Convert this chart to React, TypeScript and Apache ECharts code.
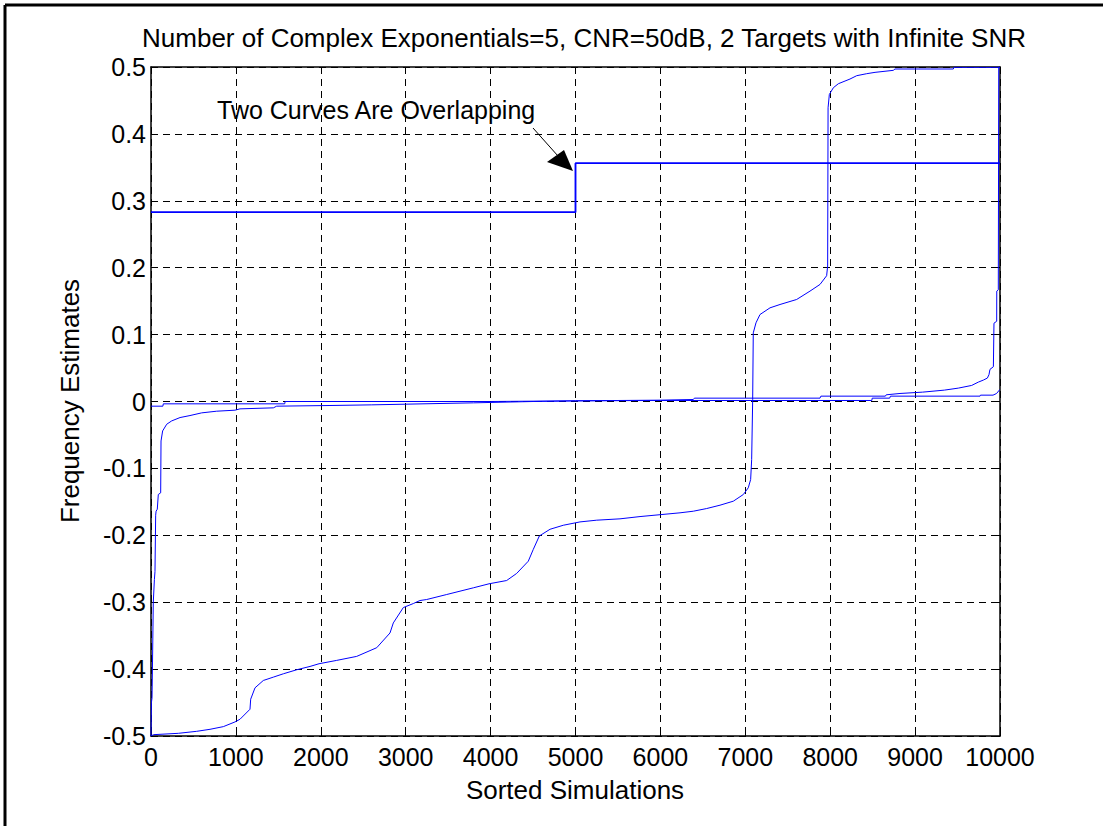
import React, { useEffect, useRef } from "react";
import * as echarts from "echarts";

const titleText = "Number of Complex Exponentials=5, CNR=50dB, 2 Targets with Infinite SNR";
const xAxisName = "Sorted Simulations";
const yAxisName = "Frequency Estimates";
const annotationText = "Two Curves Are Overlapping";

const xMin = 0;
const xMax = 10000;
const xStep = 1000;
const yMin = -0.5;
const yMax = 0.5;
const yStep = 0.1;

// Two overlapping step curves (identical)
const stepCurve1: [number, number][] = [
  [0, 0.283], [5000, 0.283], [5000, 0.356], [10000, 0.356],
];
const stepCurve2: [number, number][] = [
  [0, 0.283], [5000, 0.283], [5000, 0.356], [10000, 0.356],
];

// Curve rising from -0.5 through a staircase to 0.5
const staircaseCurve: [number, number][] = [
  [0, -0.5], [30, -0.498], [322, -0.496], [538, -0.493], [695, -0.49], [852, -0.486],
  [989, -0.479], [1048, -0.475], [1166, -0.46], [1174, -0.445], [1225, -0.428],
  [1323, -0.417], [1441, -0.412], [1559, -0.407], [1716, -0.401], [1873, -0.396],
  [1979, -0.392], [2187, -0.387], [2423, -0.381], [2659, -0.368], [2815, -0.346],
  [2854, -0.331], [2972, -0.308], [3090, -0.302], [3168, -0.2975], [3247, -0.296],
  [3483, -0.2885], [3797, -0.2785], [3981, -0.2725], [4189, -0.2676], [4307, -0.257],
  [4444, -0.2387], [4503, -0.221], [4574, -0.201], [4700, -0.191], [4856, -0.185],
  [5053, -0.18], [5250, -0.1774], [5524, -0.1754], [5760, -0.172], [6231, -0.1664],
  [6388, -0.164], [6545, -0.16], [6702, -0.155], [6859, -0.149], [6977, -0.139],
  [7035, -0.129], [7063, -0.1166], [7075, -0.0867], [7087, 0.003], [7094, 0.1026],
  [7126, 0.1176], [7173, 0.13], [7291, 0.14], [7409, 0.145], [7605, 0.1525],
  [7762, 0.165], [7880, 0.175], [7958, 0.188], [7970, 0.2025], [7975, 0.439],
  [7990, 0.459], [8037, 0.469], [8096, 0.475], [8233, 0.482], [8312, 0.487],
  [8430, 0.49], [8528, 0.492], [8743, 0.495], [8763, 0.497], [9450, 0.497],
  [9458, 0.4995], [10000, 0.4995],
];

// Curve jumping from -0.5 to near zero, ending at 0.5
const edgeCurve: [number, number][] = [
  [0, -0.5], [5, -0.45], [12, -0.443], [20, -0.37], [27, -0.3], [40, -0.266],
  [47, -0.254], [55, -0.17], [60, -0.164], [74, -0.161], [86, -0.139], [114, -0.1365],
  [118, -0.059], [137, -0.044], [185, -0.034], [244, -0.029], [342, -0.024],
  [459, -0.021], [597, -0.017], [774, -0.0145], [989, -0.013], [1048, -0.011],
  [1441, -0.0095], [1480, -0.007], [2108, -0.006], [2600, -0.005], [3000, -0.004],
  [3800, -0.002], [4500, 0.0], [5000, 0.001], [6000, 0.002], [6388, 0.003],
  [6400, 0.005], [7880, 0.005], [7890, 0.008], [8650, 0.008], [8660, 0.01],
  [8822, 0.012], [9089, 0.014], [9344, 0.017], [9509, 0.02], [9666, 0.024],
  [9745, 0.029], [9804, 0.032], [9851, 0.035], [9870, 0.04], [9882, 0.048],
  [9922, 0.052], [9929, 0.117], [9961, 0.12], [9962, 0.165], [9980, 0.167],
  [9985, 0.5], [10000, 0.5],
];

// Curve staying close to zero
const zeroCurve: [number, number][] = [
  [0, -0.007], [140, -0.007], [145, -0.0035], [1575, -0.0035], [1580, 0.0],
  [4000, 0.0], [5000, 0.001], [6000, 0.0015], [8490, 0.0015], [8495, 0.005],
  [8700, 0.005], [8710, 0.008], [9765, 0.008], [9770, 0.0095], [9918, 0.0095],
  [9960, 0.012], [9992, 0.017], [10000, 0.018],
];

const FONT = "'Liberation Sans', Arial, Helvetica, sans-serif";
const BLUE = "#0000ff";

export default function App() {
  const ref = useRef<HTMLDivElement>(null);
  useEffect(() => {
    if (!ref.current) return;
    const chart = echarts.init(ref.current, null, { renderer: "svg" });
    const gridLeft = 151;
    const gridTop = 67;
    const gridRight = 103;
    const gridBottom = 90;
    const lineSeries = (name: string, data: [number, number][], width = 1) => ({
      name,
      type: "line",
      data,
      symbol: "none",
      showSymbol: false,
      silent: true,
      lineStyle: { color: BLUE, width },
      z: 3,
    });
    const tickFont = 25;
    const option: any = {
      animation: false,
      backgroundColor: "#ffffff",
      grid: { left: gridLeft, right: gridRight, top: gridTop, bottom: gridBottom, containLabel: false },
      xAxis: [
        {
          type: "value",
          min: xMin,
          max: xMax,
          interval: xStep,
          position: "bottom",
          axisLine: { show: true, onZero: false, lineStyle: { color: "#000", width: 1.5 } },
          axisTick: { show: true, inside: true, length: 7, lineStyle: { color: "#000" } },
          axisLabel: {
            color: "#000",
            fontSize: tickFont,
            fontFamily: FONT,
            margin: 8,
            formatter: (v: number) => String(Math.round(v)),
          },
          splitLine: { show: true, lineStyle: { color: "#000", type: [7, 5], width: 1 } },
        },
        {
          type: "value",
          min: xMin,
          max: xMax,
          interval: xStep,
          position: "top",
          axisLine: { show: true, onZero: false, lineStyle: { color: "#000", width: 1.5 } },
          axisTick: { show: true, inside: true, length: 7, lineStyle: { color: "#000" } },
          axisLabel: { show: false },
          splitLine: { show: false },
        },
      ],
      yAxis: [
        {
          type: "value",
          min: yMin,
          max: yMax,
          interval: yStep,
          position: "left",
          axisLine: { show: true, onZero: false, lineStyle: { color: "#000", width: 1.5 } },
          axisTick: { show: true, inside: true, length: 7, lineStyle: { color: "#000" } },
          axisLabel: {
            color: "#000",
            fontSize: tickFont,
            fontFamily: FONT,
            margin: 5,
            formatter: (v: number) => String(Math.round(v * 10) / 10),
          },
          splitLine: { show: true, lineStyle: { color: "#000", type: [7, 5], width: 1 } },
        },
        {
          type: "value",
          min: yMin,
          max: yMax,
          interval: yStep,
          position: "right",
          axisLine: { show: true, onZero: false, lineStyle: { color: "#000", width: 1.5 } },
          axisTick: { show: true, inside: true, length: 7, lineStyle: { color: "#000" } },
          axisLabel: { show: false },
          splitLine: { show: false },
        },
      ],
      series: [
        lineSeries("Step A", stepCurve1, 1.5),
        lineSeries("Step B", stepCurve2, 1.5),
        lineSeries("Staircase", staircaseCurve),
        lineSeries("Edge", edgeCurve),
        lineSeries("Zero", zeroCurve),
      ],
      graphic: [
        { type: "line", shape: { x1: 5, y1: 5, x2: 1103, y2: 5 }, style: { stroke: "#000", lineWidth: 3 } },
        { type: "line", shape: { x1: 5, y1: 5, x2: 5, y2: 826 }, style: { stroke: "#000", lineWidth: 3 } },
        {
          type: "text",
          x: 584,
          y: 38,
          style: { text: titleText, align: "center", verticalAlign: "middle", fontSize: 26, fontFamily: FONT, fill: "#000" },
        },
        {
          type: "text",
          x: 575,
          y: 790,
          style: { text: xAxisName, align: "center", verticalAlign: "middle", fontSize: 26, fontFamily: FONT, fill: "#000" },
        },
        {
          type: "text",
          x: 70,
          y: 401,
          rotation: Math.PI / 2,
          style: { text: yAxisName, align: "center", verticalAlign: "middle", fontSize: 26, fontFamily: FONT, fill: "#000" },
        },
        {
          type: "text",
          x: 217,
          y: 110,
          style: { text: annotationText, align: "left", verticalAlign: "middle", fontSize: 25, fontFamily: FONT, fill: "#000" },
        },
        { type: "line", shape: { x1: 533, y1: 128, x2: 558, y2: 156 }, style: { stroke: "#000", lineWidth: 1 } },
        {
          type: "polygon",
          shape: { points: [[573, 171], [547, 162], [564, 150]] },
          style: { fill: "#000" },
        },
      ],
    };
    chart.setOption(option);
    return () => chart.dispose();
  }, []);
  return <div ref={ref} style={{ width: 1103, height: 826, position: "absolute", left: 0, top: 0 }} />;
}
